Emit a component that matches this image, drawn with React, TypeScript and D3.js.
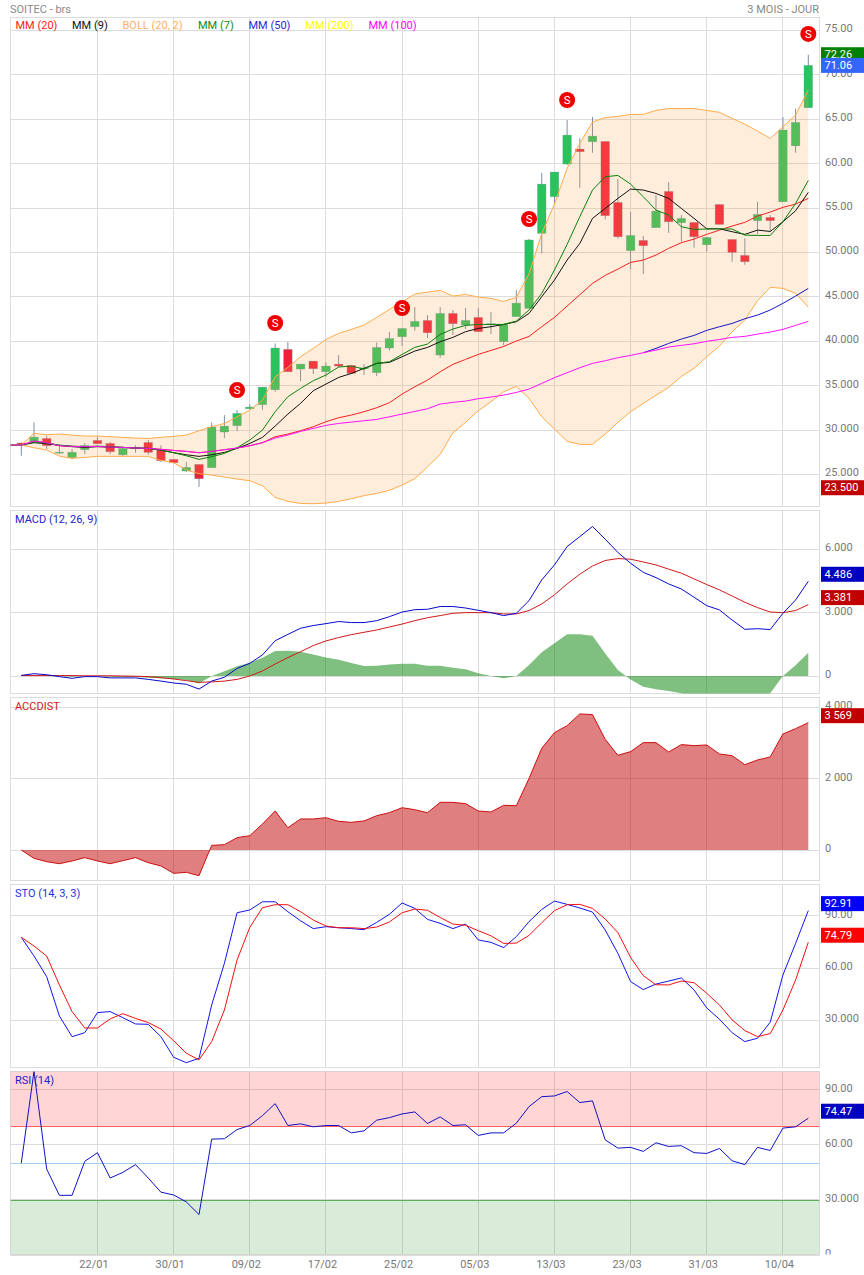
import * as d3 from "d3";

const dates = ["22/01", "30/01", "09/02", "17/02", "25/02", "05/03", "13/03", "23/03", "31/03", "10/04"];
const dateIdx = [6, 12, 18, 24, 30, 36, 42, 48, 54, 60];

const opens = [
  28.53, 28.68, 29.05, 27.44, 26.9, 27.78, 28.83, 28.49, 27.2, 27.9,
  28.6, 27.8, 26.69, 25.38, 26.13, 25.75, 29.77, 30.48, 32.39, 32.85,
  34.53, 39.08, 36.86, 37.76, 36.56, 37.42, 37.27, 36.93, 36.45, 39.23,
  40.5, 41.63, 42.34, 38.44, 43.13, 41.82, 42.68, 41.85, 39.94, 42.76,
  43.69, 52.14, 56.27, 59.95, 61.64, 62.46, 62.5, 55.63, 50.19, 51.35,
  52.78, 56.87, 53.34, 53.38, 50.86, 55.4, 51.46, 49.66, 53.57, 53.94,
  55.7, 62.0, 66.29,
];
const closes = [
  28.27, 29.2, 28.23, 27.5, 27.5, 28.27, 28.45, 27.55, 27.93, 28.0,
  27.48, 26.54, 26.31, 25.79, 24.51, 30.33, 30.44, 31.87, 32.58, 34.83,
  39.23, 36.56, 37.42, 36.9, 37.2, 37.2, 36.37, 37.0, 39.3, 40.3,
  41.44, 42.23, 40.95, 43.13, 41.97, 42.34, 41.07, 41.97, 41.89, 44.29,
  51.4, 57.69, 59.05, 63.21, 61.34, 63.1, 54.13, 51.76, 51.91, 50.75,
  54.65, 53.45, 53.83, 51.76, 51.69, 53.15, 50.0, 48.95, 54.28, 53.57,
  63.78, 64.64, 71.06,
];
const highs = [
  28.6, 30.86, 29.35, 28.23, 27.85, 28.53, 29.28, 28.64, 28.1, 28.27,
  28.87, 28.27, 26.69, 26.39, 26.13, 30.86, 31.68, 32.24, 32.88, 34.83,
  39.75, 39.9, 37.42, 37.76, 37.6, 38.44, 37.27, 37.42, 39.86, 41.03,
  41.44, 43.84, 42.94, 43.84, 43.5, 43.73, 43.73, 43.28, 41.89, 45.76,
  51.5, 58.97, 59.05, 64.9, 62.87, 65.24, 62.5, 58.26, 54.54, 51.84,
  56.46, 57.92, 54.2, 53.38, 51.69, 55.4, 51.46, 51.58, 55.7, 54.2,
  65.24, 66.2, 72.26,
];
const lows = [
  27.1, 28.68, 27.85, 27.3, 26.73, 27.3, 28.45, 27.3, 27.0, 27.44,
  27.2, 26.39, 26.31, 25.26, 23.6, 25.75, 29.09, 29.88, 32.39, 32.28,
  34.31, 36.56, 35.5, 36.3, 36.0, 37.05, 36.37, 36.19, 36.07, 38.93,
  39.45, 41.18, 40.35, 38.14, 40.7, 41.37, 41.07, 40.8, 39.53, 42.76,
  43.69, 49.89, 55.44, 59.84, 57.28, 61.22, 53.7, 51.54, 48.1, 47.56,
  52.78, 52.2, 51.2, 50.53, 50.08, 53.15, 48.95, 48.6, 52.03, 52.33,
  55.7, 61.22, 66.29,
];
const bollUp = [
  28.3, 29.62, 29.47, 29.54, 29.43, 29.32, 29.32, 29.24, 29.17, 29.09,
  29.05, 29.17, 29.28, 29.43, 29.92, 30.37, 30.74, 31.49, 32.24, 33.37,
  36.0, 37.05, 38.25, 39.19, 40.2, 40.88, 41.33, 41.82, 42.68, 43.58,
  44.44, 45.31, 45.53, 45.72, 45.08, 45.27, 44.97, 44.82, 44.48, 44.93,
  47.6, 52.14, 55.44, 59.46, 62.27, 64.68, 65.2, 65.31, 65.54, 65.54,
  65.99, 66.2, 66.2, 66.2, 65.99, 65.77, 65.09, 64.45, 63.66, 62.84,
  64.15, 65.47, 68.28,
];
const bollLow = [
  28.3, 28.0, 27.74, 27.06, 26.8, 26.91, 27.03, 27.03, 27.03, 27.03,
  27.03, 26.58, 26.31, 25.49, 25.08, 24.92, 24.7, 24.47, 24.29, 23.72,
  22.41, 21.96, 21.73, 21.7, 21.77, 21.96, 22.26, 22.6, 22.86, 23.2,
  23.8, 24.51, 25.86, 27.25, 29.69, 30.86, 32.17, 33.18, 34.31, 34.91,
  33.56, 31.49, 30.11, 28.72, 28.38, 28.38, 29.54, 30.86, 32.06, 33.0,
  33.9, 34.8, 36.04, 36.94, 38.25, 39.45, 41.07, 42.38, 44.56, 46.06,
  45.95, 45.38, 43.81,
];
const mm100 = [
  28.3, 28.75, 28.57, 28.23, 28.15, 28.12, 28.15, 28.08, 28.04, 27.97,
  27.93, 27.82, 27.7, 27.59, 27.44, 27.59, 27.78, 27.97, 28.23, 28.57,
  29.09, 29.43, 29.84, 30.18, 30.52, 30.74, 30.89, 31.04, 31.19, 31.49,
  31.79, 32.09, 32.39, 32.92, 33.11, 33.26, 33.52, 33.71, 33.93, 34.23,
  34.61, 35.25, 35.89, 36.45, 37.01, 37.5, 37.8, 38.14, 38.4, 38.7,
  39.0, 39.34, 39.53, 39.71, 39.98, 40.2, 40.43, 40.54, 40.8, 41.03,
  41.33, 41.78, 42.23,
];
const mm20 = [
  28.3, 28.75, 28.57, 28.23, 28.15, 28.12, 28.15, 28.08, 28.04, 27.97,
  27.93, 27.82, 27.7, 27.59, 27.44, 27.59, 27.78, 27.97, 28.23, 28.57,
  29.24, 29.54, 29.92, 30.37, 30.93, 31.38, 31.68, 32.06, 32.51, 33.07,
  34.05, 34.87, 35.62, 36.56, 37.39, 37.95, 38.51, 38.96, 39.41, 40.02,
  40.54, 41.63, 42.68, 43.96, 45.23, 46.51, 47.41, 48.12, 48.87, 49.14,
  49.7, 50.45, 51.09, 51.5, 52.03, 52.51, 52.97, 53.38, 54.09, 54.54,
  55.07, 55.44, 56.08,
];
const mm9 = [
  28.3, 28.57, 28.45, 28.27, 28.12, 28.04, 28.12, 28.08, 28.04, 27.97,
  27.93, 27.74, 27.44, 27.21, 27.03, 27.21, 27.48, 27.93, 28.49, 29.17,
  30.44, 31.79, 33.0, 34.42, 35.17, 35.92, 36.37, 36.94, 37.5, 37.61,
  38.25, 38.89, 39.3, 39.94, 40.43, 41.07, 41.44, 41.63, 41.89, 42.19,
  43.13, 45.01, 46.88, 49.14, 51.01, 53.83, 54.95, 56.08, 57.13, 57.02,
  56.64, 56.08, 54.95, 53.83, 52.66, 52.66, 52.33, 52.03, 52.51, 52.36,
  53.45, 54.69, 56.76,
];
const mm7 = [
  28.3, 28.64, 28.53, 28.3, 28.19, 28.12, 28.19, 28.12, 28.04, 27.97,
  27.93, 27.74, 27.44, 27.1, 26.69, 26.99, 27.36, 28.0, 28.87, 29.99,
  32.06, 33.75, 34.68, 35.55, 36.19, 37.09, 37.2, 36.86, 37.5, 37.69,
  38.51, 39.3, 39.68, 40.77, 41.37, 41.78, 41.89, 41.89, 41.89, 42.27,
  43.51, 45.38, 48.01, 50.9, 54.02, 57.02, 58.52, 58.67, 57.69, 56.27,
  54.77, 54.2, 52.89, 52.59, 52.63, 52.66, 52.63, 51.95, 51.91, 51.91,
  53.45, 55.52, 58.11,
];
const mm50Start = 49;
const mm50 = [38.7, 39.19, 39.75, 40.24, 40.65, 41.22, 41.63, 42.0, 42.53, 42.94, 43.51, 44.26, 45.08, 45.95];

const signalIdx = [17, 20, 30, 40, 43, 62];
const signalVals = [34.5, 42.05, 43.74, 53.76, 67.16, 74.6];

const macd = [
  0.03, 0.11, 0.06, -0.03, -0.11, -0.03, -0.03, -0.09, -0.09, -0.09,
  -0.16, -0.24, -0.33, -0.39, -0.62, -0.24, -0.06, 0.36, 0.6, 1.0,
  1.67, 1.97, 2.26, 2.39, 2.48, 2.58, 2.53, 2.53, 2.62, 2.81,
  3.03, 3.14, 3.16, 3.29, 3.29, 3.22, 3.11, 3.0, 2.86, 2.97,
  3.57, 4.55, 5.26, 6.13, 6.6, 7.08, 6.48, 5.85, 5.34, 4.91,
  4.66, 4.36, 4.12, 3.73, 3.33, 3.13, 2.65, 2.21, 2.24, 2.2,
  2.97, 3.6, 4.486,
];
const macdSignal = [
  0.02, 0.02, 0.02, 0.02, 0.02, 0.01, 0.01, 0.01, 0, -0.01,
  -0.03, -0.08, -0.14, -0.22, -0.3, -0.28, -0.24, -0.16, 0, 0.24,
  0.57, 0.87, 1.15, 1.44, 1.66, 1.82, 1.96, 2.07, 2.18, 2.32,
  2.46, 2.62, 2.76, 2.86, 2.97, 3.0, 3.0, 3.0, 2.94, 2.94,
  3.1, 3.41, 3.84, 4.36, 4.82, 5.21, 5.47, 5.56, 5.53, 5.4,
  5.26, 5.06, 4.87, 4.6, 4.33, 4.08, 3.79, 3.49, 3.24, 3.03,
  3.0, 3.1, 3.381,
];
const macdHist = [
  0.02, 0.02, 0.02, 0, -0.03, 0, 0, -0.03, -0.05, -0.05,
  -0.08, -0.11, -0.14, -0.19, -0.35, 0, 0.22, 0.46, 0.63, 0.87,
  1.18, 1.2, 1.15, 1.02, 0.88, 0.77, 0.62, 0.47, 0.49, 0.55,
  0.58, 0.58, 0.49, 0.49, 0.39, 0.32, 0.13, 0, -0.11, 0,
  0.52, 1.12, 1.55, 1.98, 1.98, 1.91, 1.07, 0.28, -0.17, -0.51,
  -0.63, -0.71, -0.82, -0.98, -1.06, -1.14, -1.22, -1.22, -1.14, -0.82,
  0, 0.51, 1.105,
];
const accdist = [
  0, -234, -328, -384, -308, -214, -308, -384, -300, -214,
  -356, -448, -654, -626, -720, 130, 150, 346, 402, 728,
  1094, 626, 870, 870, 906, 804, 776, 814, 962, 1046,
  1186, 1130, 1046, 1336, 1336, 1300, 1094, 1066, 1252, 1242,
  2008, 2850, 3290, 3486, 3814, 3796, 3102, 2654, 2758, 3010,
  3010, 2748, 2954, 2926, 2944, 2692, 2644, 2392, 2524, 2608,
  3252, 3402, 3569,
];
const stoK = [
  77.6, 66.9, 55.0, 32.5, 20.6, 22.9, 34.4, 35.0, 31.5, 27.9,
  27.7, 20.6, 8.8, 5.7, 8.2, 38.8, 62.7, 91.7, 93.3, 98.0,
  98.0, 92.3, 87.1, 82.6, 83.7, 83.1, 82.6, 82.0, 86.2, 90.8,
  97.3, 94.2, 87.9, 85.6, 82.6, 85.2, 76.1, 74.7, 71.7, 78.0,
  86.6, 93.6, 98.4, 96.5, 94.4, 92.1, 81.8, 68.4, 52.2, 47.6,
  50.8, 52.5, 54.3, 47.4, 37.1, 30.6, 22.9, 17.8, 19.7, 28.9,
  56.0, 74.1, 92.91,
];
const stoD = [
  77.6, 72.6, 66.9, 50.3, 35.0, 25.6, 25.6, 30.8, 33.8, 31.1,
  28.7, 25.0, 18.3, 11.1, 7.3, 17.8, 35.9, 64.6, 83.3, 94.6,
  96.3, 96.3, 92.3, 87.5, 84.1, 83.1, 83.1, 82.6, 83.5, 86.4,
  91.7, 93.8, 93.1, 89.0, 85.2, 84.5, 81.4, 78.5, 74.1, 74.3,
  78.7, 86.0, 92.9, 96.3, 96.5, 94.2, 88.1, 80.3, 66.1, 55.6,
  50.4, 50.3, 52.5, 51.6, 45.5, 38.8, 30.2, 24.1, 20.6, 22.4,
  35.9, 53.1, 74.79,
];
const rsi = [
  50.1, 100, 46.8, 32.5, 32.5, 51.0, 55.7, 41.9, 45.0, 49.2,
  41.9, 34.2, 32.7, 28.9, 22.0, 63.1, 63.3, 68.3, 70.5, 75.9,
  82.4, 70.5, 71.4, 69.8, 70.5, 70.5, 66.5, 67.6, 73.4, 74.8,
  76.8, 77.9, 71.6, 75.2, 70.5, 70.9, 65.1, 66.5, 66.5, 71.8,
  80.8, 86.2, 86.6, 89.0, 83.0, 83.9, 62.7, 58.2, 58.6, 56.4,
  61.1, 59.1, 59.5, 55.7, 55.3, 58.0, 51.3, 49.2, 58.6, 56.9,
  69.1, 69.8, 74.47,
];

const mainTicks = [75, 70, 65, 60, 55, 50, 45, 40, 35, 30, 25];
const mainTickLabels = ["75.00", "70.00", "65.00", "60.00", "55.00", "50.000", "45.000", "40.000", "35.000", "30.000", "25.000"];
const macdTicks = [6, 3, 0];
const macdTickLabels = ["6.000", "3.000", "0"];
const accTicks = [4000, 2000, 0];
const accTickLabels = ["4 000", "2 000", "0"];
const stoTicks = [90, 60, 30];
const stoTickLabels = ["90.00", "60.00", "30.000"];
const rsiTicks = [90, 60, 30, 0];
const rsiTickLabels = ["90.00", "60.00", "30.000", "0"];

const legendNames = ["MM (20)", "MM (9)", "BOLL (20, 2)", "MM (7)", "MM (50)", "MM (200)", "MM (100)"];
const legendColors = ["#ff2020", "#111111", "#ffb060", "#108a10", "#2a2ad0", "#ffff00", "#ff00ff"];
const legendX = [15.5, 72, 122.5, 198, 248.5, 305.5, 368.5];

const L = 10.5, R = 819.5;
const font = "Roboto, sans-serif";
const grey = "#777";
const tagLift = 7; // sub-panel tags sit above the line end

const x = d3.scaleLinear().domain([0, 62]).range([21.3, 808.3]);
const yMain = d3.scaleLinear().domain([25, 75]).range([474.4, 30.4]);
const yMacd = d3.scaleLinear().domain([0, 6]).range([676, 549.3]);
const yAcc = d3.scaleLinear().domain([0, 4000]).range([850, 707.3]);
const ySto = d3.scaleLinear().domain([30, 90]).range([1020.3, 915.7]);
const yRsi = d3.scaleLinear().domain([0, 90]).range([1255, 1089.7]);

const panels = [
  { id: "main", top: 17.5, bottom: 506.5, y: yMain, ticks: mainTicks, labels: mainTickLabels },
  { id: "macd", top: 510.5, bottom: 693.5, y: yMacd, ticks: macdTicks, labels: macdTickLabels },
  { id: "acc", top: 697.5, bottom: 880.5, y: yAcc, ticks: accTicks, labels: accTickLabels },
  { id: "sto", top: 884.5, bottom: 1067.5, y: ySto, ticks: stoTicks, labels: stoTickLabels },
  { id: "rsi", top: 1071.5, bottom: 1254.5, y: yRsi, ticks: rsiTicks, labels: rsiTickLabels },
];

// main panel lines run on to the left edge, flat, before the first bar
const linePath = (y: any, vals: number[], lead = false, start = 0) =>
  d3.line<number>()
    .x((_, i) => (lead ? (i === 0 ? L : x(i - 1)) : x(i + start)))
    .y((v) => y(v))(lead ? [vals[0], ...vals] : vals) || "";

const areaPath = (y: any, vals: number[]) =>
  d3.area<number>()
    .x((_, i) => x(i))
    .y0(y(0))
    .y1((v) => y(v))(vals) || "";

const bandPath = d3.area<number>()
  .x((_, i) => (i === 0 ? L : x(i - 1)))
  .y0((_, i) => yMain(bollLow[Math.max(i - 1, 0)]))
  .y1((_, i) => yMain(bollUp[Math.max(i - 1, 0)]));

const snap = (v: number) => Math.round(v) + 0.5;

const Line = ({ d, color, w = 1 }: { d: string; color: string; w?: number }) => (
  <path d={d} fill="none" stroke={color} strokeWidth={w} strokeLinejoin="round" />
);

const Tag = ({ y, text, color }: { y: number; text: string; color: string }) => (
  <g>
    <rect x={821} y={y - 7.5} width={43} height={15} fill={color} />
    <text x={824.5} y={y + 3.6} fill="#fff" fontSize={11}>{text}</text>
  </g>
);

export default function App() {
  return (
    <svg width={864} height={1275} viewBox="0 0 864 1275" fontFamily={font}
      style={{ position: "absolute", left: 0, top: 0, display: "block", background: "#fff" }}>
      <defs>
        {panels.map((p) => (
          <clipPath id={"clip-" + p.id} key={p.id}>
            <rect x={L} y={p.top} width={R - L} height={p.bottom - p.top} />
          </clipPath>
        ))}
        {panels.map((p) => (
          <clipPath id={"clipr-" + p.id} key={p.id}>
            <rect x={R} y={p.top - 6} width={44.5} height={p.bottom - p.top + 6} />
          </clipPath>
        ))}
      </defs>

      <text x={10} y={12.5} fontSize={11} fill="#888">SOITEC - brs</text>
      <text x={819} y={12.5} fontSize={11} fill="#888" textAnchor="end">3 MOIS - JOUR</text>

      {/* frames and grid */}
      {panels.map((p) => (
        <g key={p.id} fill="none" stroke="#dcdcdc" strokeWidth={1}>
          {dateIdx.map((i) => (
            <line key={i} x1={Math.floor(x(i)) + 0.5} x2={Math.floor(x(i)) + 0.5} y1={p.top} y2={p.bottom} />
          ))}
          {p.ticks.map((t) => (
            <line key={t} x1={L} x2={R} y1={Math.floor(p.y(t)) + 0.5} y2={Math.floor(p.y(t)) + 0.5} />
          ))}
          <rect x={L} y={p.top} width={R - L} height={p.bottom - p.top} />
        </g>
      ))}

      {/* price panel */}
      <g clipPath="url(#clip-main)">
        {closes.map((c, i) => {
          const up = c >= opens[i];
          const top = yMain(Math.max(c, opens[i]));
          const bot = yMain(Math.min(c, opens[i]));
          return (
            <g key={i}>
              <line x1={x(i)} x2={x(i)} y1={yMain(highs[i])} y2={yMain(lows[i])} stroke="#7b8fa6" strokeWidth={1} />
              <rect x={x(i) - 4.3} y={top} width={8.6} height={Math.max(bot - top, 1)}
                fill={up ? "#2ac25c" : "#f0203c"} stroke="#7b8fa6" strokeOpacity={0.45} strokeWidth={0.6} />
            </g>
          );
        })}
        <path d={bandPath([bollUp[0], ...bollUp]) || ""} fill="#ffa64d" fillOpacity={0.2} />
        <Line d={linePath(yMain, mm20, true)} color="#f52020" />
        <Line d={linePath(yMain, mm9, true)} color="#111" />
        <Line d={linePath(yMain, bollUp, true)} color="#ffab4a" />
        <Line d={linePath(yMain, bollLow, true)} color="#ffab4a" />
        <Line d={linePath(yMain, mm7, true)} color="#0a800a" />
        <Line d={linePath(yMain, mm50, false, mm50Start)} color="#1515c8" />
        <Line d={linePath(yMain, mm100, true)} color="#ff10ff" />
        {signalIdx.map((idx, k) => (
          <g key={idx}>
            <circle cx={x(idx)} cy={yMain(signalVals[k])} r={8} fill="#ee0000" />
            <text x={x(idx)} y={yMain(signalVals[k]) + 4} fontSize={11.5} fill="#fff" textAnchor="middle">S</text>
          </g>
        ))}
      </g>
      {legendNames.map((n, i) => (
        <text key={n} x={legendX[i]} y={28.5} fontSize={11} fill={legendColors[i]}>{n}</text>
      ))}

      {/* MACD */}
      <g clipPath="url(#clip-macd)">
        <path d={areaPath(yMacd, macdHist)} fill="#008000" fillOpacity={0.5} />
        <Line d={linePath(yMacd, macdSignal)} color="#d01818" />
        <Line d={linePath(yMacd, macd)} color="#0808d0" />
      </g>
      <text x={15} y={522.8} fontSize={11} fill="#2222cc">MACD (12, 26, 9)</text>

      {/* ACCDIST */}
      <g clipPath="url(#clip-acc)">
        <path d={areaPath(yAcc, accdist)} fill="#c00000" fillOpacity={0.5} />
        <Line d={linePath(yAcc, accdist)} color="#cc1010" />
      </g>
      <text x={15} y={709.8} fontSize={11} fill="#d02020">ACCDIST</text>

      {/* STO */}
      <g clipPath="url(#clip-sto)">
        <Line d={linePath(ySto, stoK)} color="#1414f0" />
        <Line d={linePath(ySto, stoD)} color="#f51010" />
      </g>
      <text x={15} y={896.8} fontSize={11} fill="#2233dd">STO (14, 3, 3)</text>

      {/* RSI */}
      <g clipPath="url(#clip-rsi)">
        <rect x={L} y={yRsi(100)} width={R - L} height={yRsi(70) - yRsi(100)} fill="#ff0000" fillOpacity={0.165} />
        <rect x={L} y={yRsi(30)} width={R - L} height={1254.5 - yRsi(30)} fill="#008000" fillOpacity={0.15} />
        <line x1={L} x2={R} y1={snap(yRsi(70))} y2={snap(yRsi(70))} stroke="#ff6060" />
        <line x1={L} x2={R} y1={snap(yRsi(50))} y2={snap(yRsi(50))} stroke="#a2cbf4" />
        <line x1={L} x2={R} y1={snap(yRsi(30))} y2={snap(yRsi(30))} stroke="#5cae5c" />
        <Line d={linePath(yRsi, rsi)} color="#1010c8" />
      </g>
      <text x={15} y={1083.8} fontSize={11} fill="#2222cc">RSI (14)</text>

      {/* right scale */}
      {panels.map((p) => (
        <g key={p.id} clipPath={`url(#clipr-${p.id})`}>
          {p.ticks.map((t, k) => (
            <text key={t} x={825} y={p.y(t) + 2} fontSize={11} fill={grey}>{p.labels[k]}</text>
          ))}
        </g>
      ))}
      <Tag y={yMain(72.26)} text="72.26" color="#008000" />
      <Tag y={yMain(71.06)} text="71.06" color="#3366ff" />
      <Tag y={yMain(23.5)} text="23.500" color="#c00000" />
      <Tag y={yMacd(4.486) - tagLift} text="4.486" color="#0000c0" />
      <Tag y={yMacd(3.381) - tagLift} text="3.381" color="#c00000" />
      <Tag y={yAcc(3569) - tagLift} text="3 569" color="#c00000" />
      <Tag y={ySto(92.91) - tagLift} text="92.91" color="#0000ff" />
      <Tag y={ySto(74.79) - tagLift} text="74.79" color="#ff0000" />
      <Tag y={yRsi(74.47) - tagLift} text="74.47" color="#0000c0" />

      {/* date labels */}
      {dates.map((d, k) => (
        <text key={d} x={x(dateIdx[k]) - 3.5} y={1268} fontSize={11} fill={grey} textAnchor="middle">{d}</text>
      ))}
    </svg>
  );
}
